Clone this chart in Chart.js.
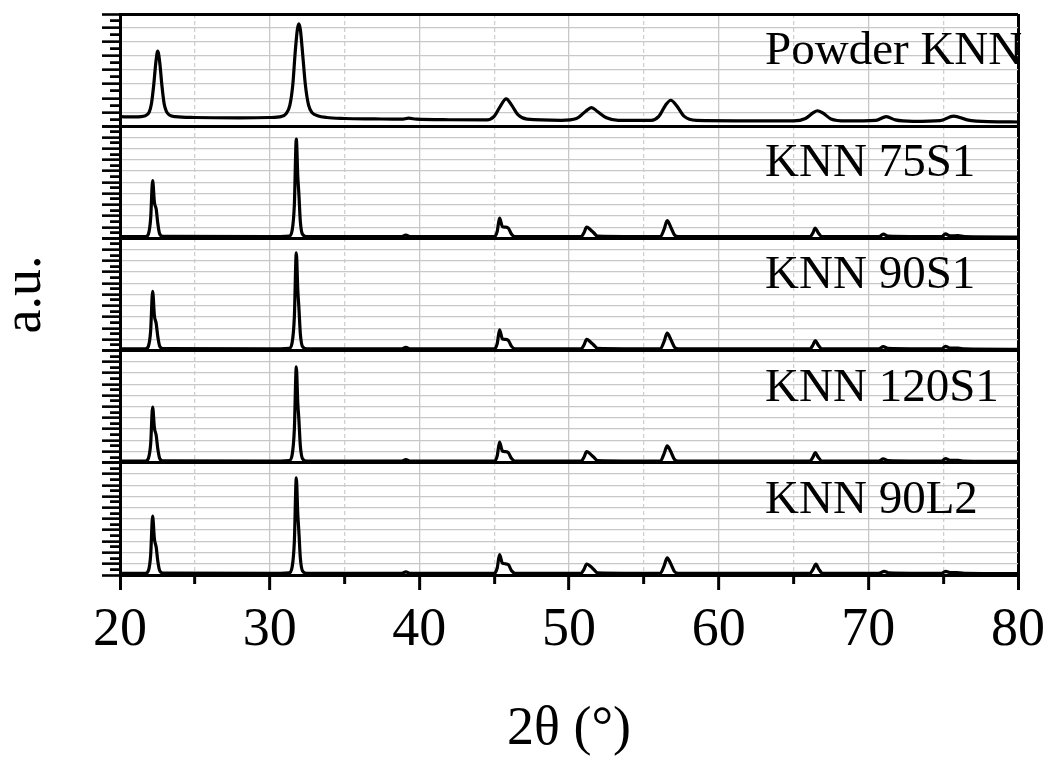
<!DOCTYPE html>
<html>
<head>
<meta charset="utf-8">
<script src="https://cdn.jsdelivr.net/npm/chart.js@4.4.1/dist/chart.umd.min.js"></script>
<style>
  html, body { margin: 0; padding: 0; background: #ffffff; }
  #wrap { position: relative; width: 1050px; height: 760px; }
</style>
</head>
<body>
<div id="wrap"><canvas id="c"></canvas></div>
<script>
// ---- data (2θ in degrees, intensity in arbitrary units per panel) ----
const panelNames = ['Powder KNN', 'KNN 75S1', 'KNN 90S1', 'KNN 120S1', 'KNN 90L2'];
const xTickLabels = [20, 30, 40, 50, 60, 70, 80];
const xAxisTitle = '2θ (°)';
const yAxisTitle = 'a.u.';

const powderKNN = [
  [20,0.68],[21,0.66],[21.7,0.75],[21.95,1.0],[22.1,1.6],[22.25,2.9],[22.4,4.6],[22.52,5.35],
  [22.65,4.6],[22.8,2.9],[22.95,1.6],[23.1,1.05],[23.3,0.8],[23.7,0.68],[25,0.62],[28,0.6],
  [30,0.62],[30.8,0.7],[31.1,0.9],[31.35,1.5],[31.55,3.0],[31.7,5.2],[31.85,6.9],[31.95,7.3],
  [32.05,6.9],[32.2,5.2],[32.38,3.0],[32.6,1.5],[32.85,0.95],[33.2,0.75],[33.8,0.62],[35,0.55],
  [37,0.52],[38.8,0.5],[39.3,0.57],[39.8,0.5],[42,0.46],[44.5,0.45],[45.0,0.7],[45.4,1.4],
  [45.8,1.95],[46.2,1.45],[46.6,0.8],[47.2,0.5],[49.5,0.42],[50.5,0.55],[51.1,1.05],[51.5,1.33],
  [51.9,1.05],[52.5,0.6],[53.3,0.42],[55.5,0.42],[56.0,0.7],[56.45,1.5],[56.8,1.85],[57.2,1.45],
  [57.7,0.7],[58.5,0.42],[65,0.38],[65.8,0.55],[66.3,0.95],[66.6,1.1],[66.95,0.95],[67.5,0.52],
  [68.5,0.38],[70.5,0.42],[71.2,0.68],[71.8,0.45],[73,0.35],[74.8,0.4],[75.7,0.72],[76.6,0.45],
  [78,0.32],[80,0.3]
];
const knn75S1 = [
  [20,0.15],[21.7,0.15],[21.9,0.4],[22.05,1.8],[22.18,5.15],[22.3,3.2],[22.42,2.6],[22.52,1.4],
  [22.65,0.4],[22.85,0.18],[30,0.15],[31.3,0.2],[31.5,0.7],[31.65,3.0],[31.78,8.85],[31.88,5.5],
  [31.95,4.0],[32.05,1.5],[32.2,0.35],[32.5,0.15],[38.8,0.15],[39.1,0.3],[39.4,0.15],[45.0,0.15],
  [45.2,0.6],[45.36,1.8],[45.55,1.05],[45.75,1.0],[45.95,0.9],[46.15,0.4],[46.4,0.15],[50.8,0.15],
  [51.0,0.5],[51.18,1.0],[51.45,0.75],[51.65,0.5],[51.9,0.2],[56.1,0.15],[56.35,0.8],[56.56,1.58],
  [56.8,1.0],[57.05,0.3],[57.3,0.15],[66.1,0.15],[66.3,0.5],[66.45,0.92],[66.65,0.5],[66.9,0.15],
  [70.7,0.15],[71.0,0.38],[71.3,0.2],[74.9,0.15],[75.15,0.4],[75.45,0.22],[76.0,0.25],[76.4,0.15],[80,0.12]
];
const knn90S1 = [
  [20,0.15],[21.7,0.15],[21.9,0.4],[22.05,1.8],[22.18,5.28],[22.3,3.1],[22.42,2.4],[22.52,1.3],
  [22.65,0.4],[22.85,0.18],[30,0.15],[31.3,0.2],[31.5,0.7],[31.65,3.0],[31.78,8.72],[31.88,5.4],
  [31.95,3.9],[32.05,1.5],[32.2,0.35],[32.5,0.15],[38.8,0.15],[39.1,0.28],[39.4,0.15],[45.0,0.15],
  [45.2,0.6],[45.36,1.85],[45.55,1.05],[45.75,1.0],[45.95,0.9],[46.15,0.4],[46.4,0.15],[50.8,0.15],
  [51.0,0.5],[51.18,1.0],[51.45,0.75],[51.65,0.5],[51.9,0.2],[56.1,0.15],[56.35,0.8],[56.56,1.55],
  [56.8,1.0],[57.05,0.3],[57.3,0.15],[66.1,0.15],[66.3,0.5],[66.45,0.9],[66.65,0.5],[66.9,0.15],
  [70.7,0.15],[71.0,0.35],[71.3,0.2],[74.9,0.15],[75.15,0.38],[75.45,0.22],[76.0,0.22],[76.4,0.15],[80,0.12]
];
const knn120S1 = [
  [20,0.15],[21.7,0.15],[21.9,0.4],[22.05,1.7],[22.18,4.97],[22.3,3.1],[22.42,2.44],[22.52,1.3],
  [22.65,0.4],[22.85,0.18],[30,0.15],[31.3,0.2],[31.5,0.7],[31.65,3.0],[31.78,8.55],[31.88,5.3],
  [31.95,3.9],[32.05,1.5],[32.2,0.35],[32.5,0.15],[38.8,0.15],[39.1,0.28],[39.4,0.15],[45.0,0.15],
  [45.2,0.6],[45.36,1.85],[45.55,1.05],[45.75,1.0],[45.95,0.9],[46.15,0.4],[46.4,0.15],[50.8,0.15],
  [51.0,0.5],[51.18,1.0],[51.45,0.75],[51.65,0.5],[51.9,0.2],[56.1,0.15],[56.35,0.8],[56.56,1.5],
  [56.8,1.0],[57.05,0.3],[57.3,0.15],[66.1,0.15],[66.3,0.5],[66.45,0.9],[66.65,0.5],[66.9,0.15],
  [70.7,0.15],[71.0,0.35],[71.3,0.2],[74.9,0.15],[75.15,0.38],[75.45,0.22],[76.0,0.22],[76.4,0.15],[80,0.12]
];
const knn90L2 = [
  [20,0.15],[21.7,0.15],[21.9,0.4],[22.05,1.8],[22.18,5.24],[22.3,3.2],[22.42,2.47],[22.52,1.3],
  [22.65,0.4],[22.85,0.18],[30,0.15],[31.3,0.2],[31.5,0.7],[31.65,3.0],[31.78,8.66],[31.88,5.4],
  [31.95,3.9],[32.05,1.5],[32.2,0.35],[32.5,0.15],[38.8,0.15],[39.1,0.28],[39.4,0.15],[45.0,0.15],
  [45.2,0.6],[45.36,1.81],[45.55,1.05],[45.75,1.0],[45.95,0.92],[46.15,0.4],[46.4,0.15],[50.8,0.15],
  [51.0,0.5],[51.18,0.98],[51.45,0.75],[51.65,0.5],[51.9,0.2],[56.1,0.15],[56.35,0.8],[56.56,1.52],
  [56.8,1.0],[57.05,0.3],[57.3,0.15],[66.1,0.15],[66.3,0.5],[66.5,0.97],[66.7,0.5],[66.95,0.15],
  [70.7,0.15],[71.06,0.33],[71.35,0.2],[74.9,0.15],[75.18,0.33],[75.45,0.22],[76.1,0.2],[76.5,0.15],[80,0.12]
];
const panelSeries = [powderKNN, knn75S1, knn90S1, knn120S1, knn90L2];
const panelMax = [8, 10, 10, 10, 10];

// ---- styling / layout ----
const SERIF = "'Liberation Serif', 'Times New Roman', serif";
const GRID_GRAY = '#c8c8c8';
const axisIds = ['yA', 'yB', 'yC', 'yD', 'yE'];
const LABEL_POS = 63.1; // 2θ where panel names start

Chart.defaults.font.family = SERIF;
Chart.defaults.color = '#000';

function yAxis(i) {
  const max = panelMax[i];
  const isEdge = (c) => c.tick && (c.tick.value === 0 || c.tick.value === max);
  const isMajor = (c) => c.tick && Number.isInteger(c.tick.value);
  return {
    type: 'linear', position: 'left', stack: 'panels', stackWeight: 1,
    weight: 5 - i, min: 0, max: max,
    ticks: { display: false, stepSize: 0.5 },
    grid: {
      display: true, drawTicks: true, tickLength: 18,
      color: (c) => isEdge(c) ? '#000' : (isMajor(c) ? GRID_GRAY : 'rgba(0,0,0,0)'),
      lineWidth: (c) => isEdge(c) ? 3 : 1.3,
      tickColor: '#000', tickWidth: 2.6,
      tickBorderDash: (c) => isMajor(c) ? [] : [0, 8, 14, 0]
    },
    border: { display: true, color: '#000', width: 3 },
    title: i === 2 ? {
      display: true, text: yAxisTitle,
      font: { family: SERIF, size: 54, lineHeight: 0.8 },
      padding: { top: 4, bottom: 54.8 }, color: '#000'
    } : { display: false }
  };
}

const scales = {
  x: {
    type: 'linear', position: 'bottom', min: 20, max: 80,
    ticks: {
      stepSize: 5, autoSkip: false, maxRotation: 0, padding: 3, color: '#000',
      font: { family: SERIF, size: 54, lineHeight: 1.4 },
      callback: (v) => xTickLabels.includes(v) ? String(v) : ''
    },
    grid: {
      drawTicks: true, tickLength: 15,
      color: (c) => (c.tick.value === 20 || c.tick.value === 80) ? '#000' :
                    (c.tick.value % 10 === 0 ? GRID_GRAY : 'rgba(0,0,0,0)'),
      lineWidth: (c) => (c.tick.value === 20 || c.tick.value === 80) ? 3 : 1.3,
      tickColor: '#000', tickWidth: 3,
      tickBorderDash: (c) => c.tick.value % 10 === 0 ? [] : [7, 100]
    },
    border: { display: true, color: '#000', width: 3 },
    title: {
      display: true, text: xAxisTitle, color: '#000',
      font: { family: SERIF, size: 54, lineHeight: 1 },
      padding: { top: 31.4, bottom: 3 }
    }
  },
  x2: {
    type: 'linear', position: 'top', min: 20, max: 80,
    ticks: { display: false, stepSize: 5 },
    grid: {
      drawTicks: false,
      color: (c) => (c.tick.value % 10 === 5) ? '#d0d0d0' : 'rgba(0,0,0,0)',
      lineWidth: 1.3
    },
    border: { display: false, dash: [4, 3] }
  }
};
for (let i = panelSeries.length - 1; i >= 0; i--) scales[axisIds[i]] = yAxis(i);

const datasets = panelSeries.map((s, i) => ({
  label: panelNames[i],
  data: s.map(p => ({ x: p[0], y: p[1] })),
  yAxisID: axisIds[i], xAxisID: 'x',
  borderColor: '#000', borderWidth: 3.2, pointRadius: 0,
  cubicInterpolationMode: 'monotone', fill: false,
  borderJoinStyle: 'round', borderCapStyle: 'round'
}));

const panelLabels = {
  id: 'panelLabels',
  afterDatasetsDraw(chart) {
    const ctx = chart.ctx;
    const xs = chart.scales.x;
    ctx.save();
    ctx.font = '47px ' + SERIF;
    ctx.fillStyle = '#000';
    ctx.textAlign = 'left';
    ctx.textBaseline = 'alphabetic';
    panelNames.forEach((name, i) => {
      const ys = chart.scales[axisIds[i]];
      ctx.fillText(name, xs.getPixelForValue(LABEL_POS), ys.top + 50);
    });
    ctx.restore();
  }
};

new Chart(document.getElementById('c'), {
  type: 'line',
  data: { datasets },
  options: {
    responsive: true, maintainAspectRatio: false, animation: false,
    layout: { padding: { top: 14, right: 32, bottom: 0, left: 0 } },
    plugins: { legend: { display: false }, tooltip: { enabled: false } },
    scales
  },
  plugins: [panelLabels]
});
</script>
</body>
</html>
